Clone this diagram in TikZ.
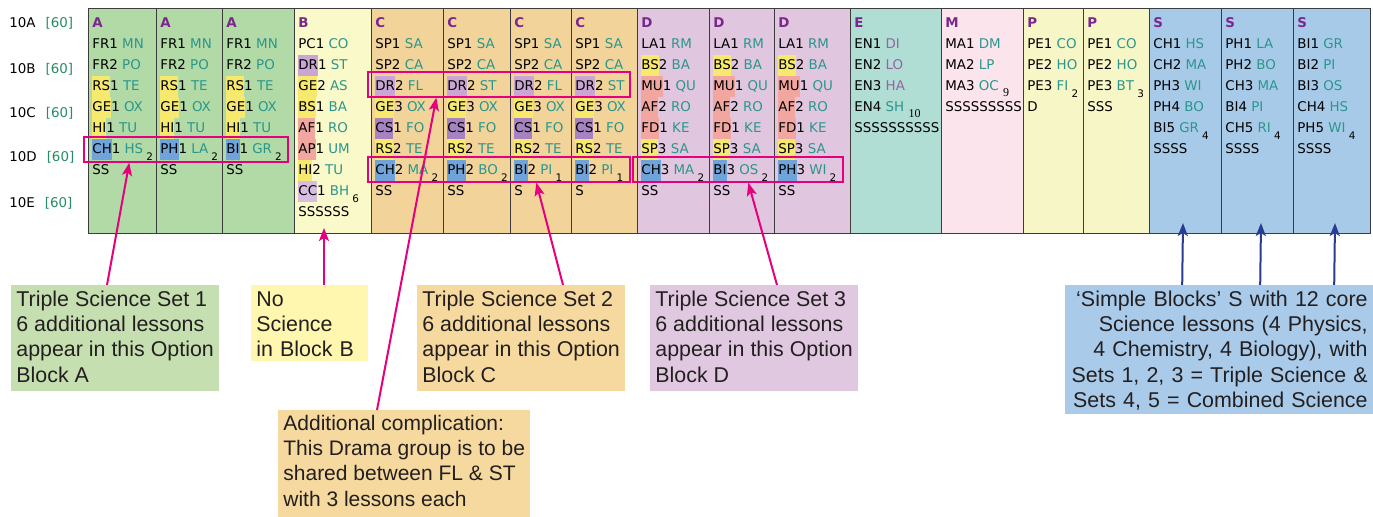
\documentclass[tikz,border=0pt]{standalone}
\usepackage{fontspec}
\setmainfont{DejaVu Sans}
\newfontfamily\callfam{Liberation Sans}
\newfontfamily\serifsub{Liberation Serif}
\usetikzlibrary{arrows.meta, positioning}

% block colours
\definecolor{colA}{RGB}{178,218,166}
\definecolor{colB}{RGB}{250,249,202}
\definecolor{colC}{RGB}{242,212,154}
\definecolor{colD}{RGB}{225,198,224}
\definecolor{colE}{RGB}{176,221,212}
\definecolor{colM}{RGB}{251,228,236}
\definecolor{colP}{RGB}{247,246,198}
\definecolor{colS}{RGB}{168,202,233}
% callout colours
\definecolor{calA}{RGB}{197,223,176}
\definecolor{calB}{RGB}{255,246,176}
\definecolor{calC}{RGB}{245,217,158}
\definecolor{calD}{RGB}{224,201,224}
\definecolor{calS}{RGB}{169,203,233}
% highlight colours
\definecolor{hly}{RGB}{247,233,110}
\definecolor{hlb}{RGB}{111,163,217}
\definecolor{hldr}{RGB}{201,166,211}
\definecolor{hlcs}{RGB}{166,131,192}
\definecolor{hlp}{RGB}{242,166,160}
\definecolor{hlcc}{RGB}{215,190,225}
% text and lines
\definecolor{codeteal}{RGB}{42,150,140}
\definecolor{codemauve}{RGB}{150,100,160}
\definecolor{lblteal}{RGB}{38,140,100}
\definecolor{hdrpurple}{RGB}{122,40,140}
\definecolor{calltext}{RGB}{35,31,32}
\definecolor{gridline}{RGB}{60,60,60}
\definecolor{pinkline}{RGB}{230,0,126}
\definecolor{navyline}{RGB}{40,60,145}

\newcommand\gridfont{\fontsize{6.7}{10.5}\selectfont}
\newcommand\callfont{\callfam\fontsize{10.7}{12.65}\selectfont}
\newcommand\gc[1]{\textcolor{codeteal}{#1}}
\newcommand\gm[1]{\textcolor{codemauve}{#1}}
\newcommand\hlt[2]{{\setlength\fboxsep{0pt}\colorbox{#1}{\rule[-2.9pt]{0pt}{10.4pt}#2}}}
\newcommand\hdr[1]{\rule{0pt}{7pt}\textcolor{hdrpurple}{\textbf{#1}}}
\newcommand\subn[1]{\kern1.6pt\raisebox{-3.2pt}{\fontsize{5.2}{6}\selectfont#1}}
\newcommand\subs[1]{\kern2.2pt\raisebox{-3pt}{\serifsub\fontsize{6}{6}\selectfont#1}}

\begin{document}
\begin{tikzpicture}[
  x=0.5pt, y=-0.5pt,
  gcol/.style={draw=gridline, line width=0.5pt, anchor=north west,
    inner sep=0pt, outer sep=0pt, minimum height=112.5pt},
  gtext/.style={anchor=north west, inner sep=0pt, align=left,
    font=\gridfont},
  rowlbl/.style={anchor=base west, inner sep=0pt, font=\gridfont},
  setbox/.style={draw=pinkline, line width=0.7pt, inner sep=0pt,
    minimum height=12.5pt},
  callout/.style={anchor=north west, inner xsep=2.5pt, inner ysep=2pt,
    align=left, font=\callfont, text=calltext},
  pinkarrow/.style={-{Stealth[length=6.5pt,width=5pt,inset=1.5pt]},
    line width=1pt, draw=pinkline},
  navyarrow/.style={-{Stealth[length=6.5pt,width=5pt,inset=1.5pt]},
    line width=1pt, draw=navyline}
]
\useasboundingbox (0,0) rectangle (1373,517);

% Row labels
\node[rowlbl] (r10A) at (9,27.5) {10A\hspace{5pt}\textcolor{lblteal}{[60]}};
\node[rowlbl] (r10B) at (9,73.1) {10B\hspace{5pt}\textcolor{lblteal}{[60]}};
\node[rowlbl] (r10C) at (9,117.5) {10C\hspace{5pt}\textcolor{lblteal}{[60]}};
\node[rowlbl] (r10D) at (9,161.5) {10D\hspace{5pt}\textcolor{lblteal}{[60]}};
\node[rowlbl] (r10E) at (9,207.5) {10E\hspace{5pt}\textcolor{lblteal}{[60]}};

% Block columns
\node[gcol, fill=colA, minimum width=34pt] (cA1) at (88,9) {};
\node[gcol, fill=colA, minimum width=33pt, right=0pt of cA1] (cA2) {};
\node[gcol, fill=colA, minimum width=36pt, right=0pt of cA2] (cA3) {};
\node[gcol, fill=colB, minimum width=38.5pt, right=0pt of cA3] (cB) {};
\node[gcol, fill=colC, minimum width=36pt, right=0pt of cB] (cC1) {};
\node[gcol, fill=colC, minimum width=33.5pt, right=0pt of cC1] (cC2) {};
\node[gcol, fill=colC, minimum width=30.5pt, right=0pt of cC2] (cC3) {};
\node[gcol, fill=colC, minimum width=33pt, right=0pt of cC3] (cC4) {};
\node[gcol, fill=colD, minimum width=36pt, right=0pt of cC4] (cD1) {};
\node[gcol, fill=colD, minimum width=32.5pt, right=0pt of cD1] (cD2) {};
\node[gcol, fill=colD, minimum width=38pt, right=0pt of cD2] (cD3) {};
\node[gcol, fill=colE, minimum width=45.5pt, right=0pt of cD3] (cE) {};
\node[gcol, fill=colM, minimum width=41pt, right=0pt of cE] (cM) {};
\node[gcol, fill=colP, minimum width=30pt, right=0pt of cM] (cP1) {};
\node[gcol, fill=colP, minimum width=33pt, right=0pt of cP1] (cP2) {};
\node[gcol, fill=colS, minimum width=36pt, right=0pt of cP2] (cS1) {};
\node[gcol, fill=colS, minimum width=36pt, right=0pt of cS1] (cS2) {};
\node[gcol, fill=colS, minimum width=38.5pt, right=0pt of cS2] (cS3) {};

% Column contents
\node[gtext] (tA1) at ([xshift=2pt,yshift=-2.25pt]cA1.north west)
  {\hdr{A}\\FR1 \gc{MN}\\FR2 \gc{PO}\\\hlt{hly}{RS}1 \gc{TE}\\\hlt{hly}{GE}1 \gc{OX}\\
   \hlt{hly}{HI}1 \gc{TU}\\\hlt{hlb}{CH}1 \gc{HS}\subn{2}\\SS};
\node[gtext] (tA2) at ([xshift=2pt,yshift=-2.25pt]cA2.north west)
  {\hdr{A}\\FR1 \gc{MN}\\FR2 \gc{PO}\\\hlt{hly}{RS}1 \gc{TE}\\\hlt{hly}{GE}1 \gc{OX}\\
   \hlt{hly}{HI}1 \gc{TU}\\\hlt{hlb}{PH}1 \gc{LA}\subn{2}\\SS};
\node[gtext] (tA3) at ([xshift=2pt,yshift=-2.25pt]cA3.north west)
  {\hdr{A}\\FR1 \gc{MN}\\FR2 \gc{PO}\\\hlt{hly}{RS}1 \gc{TE}\\\hlt{hly}{GE}1 \gc{OX}\\
   \hlt{hly}{HI}1 \gc{TU}\\\hlt{hlb}{BI}1 \gc{GR}\subn{2}\\SS};
\node[gtext] (tB) at ([xshift=2pt,yshift=-2.25pt]cB.north west)
  {\hdr{B}\\PC1 \gc{CO}\\\hlt{hldr}{DR}1 \gc{ST}\\\hlt{hly}{GE}2 \gc{AS}\\\hlt{hly}{BS}1 \gc{BA}\\
   \hlt{hlp}{AF}1 \gc{RO}\\\hlt{hlp}{AP}1 \gc{UM}\\\hlt{hly}{HI}2 \gc{TU}\\
   \hlt{hlcc}{CC}1 \gc{BH}\subn{6}\\SSSSSS};
\node[gtext] (tC1) at ([xshift=2pt,yshift=-2.25pt]cC1.north west)
  {\hdr{C}\\SP1 \gc{SA}\\SP2 \gc{CA}\\\hlt{hldr}{DR}2 \gc{FL}\\\hlt{hly}{GE}3 \gc{OX}\\
   \hlt{hlcs}{CS}1 \gc{FO}\\\hlt{hly}{RS}2 \gc{TE}\\\hlt{hlb}{CH}2 \gc{MA}\subn{2}\\SS};
\node[gtext] (tC2) at ([xshift=2pt,yshift=-2.25pt]cC2.north west)
  {\hdr{C}\\SP1 \gc{SA}\\SP2 \gc{CA}\\\hlt{hldr}{DR}2 \gc{ST}\\\hlt{hly}{GE}3 \gc{OX}\\
   \hlt{hlcs}{CS}1 \gc{FO}\\\hlt{hly}{RS}2 \gc{TE}\\\hlt{hlb}{PH}2 \gc{BO}\subn{2}\\SS};
\node[gtext] (tC3) at ([xshift=2pt,yshift=-2.25pt]cC3.north west)
  {\hdr{C}\\SP1 \gc{SA}\\SP2 \gc{CA}\\\hlt{hldr}{DR}2 \gc{FL}\\\hlt{hly}{GE}3 \gc{OX}\\
   \hlt{hlcs}{CS}1 \gc{FO}\\\hlt{hly}{RS}2 \gc{TE}\\\hlt{hlb}{BI}2 \gc{PI}\subn{1}\\S};
\node[gtext] (tC4) at ([xshift=2pt,yshift=-2.25pt]cC4.north west)
  {\hdr{C}\\SP1 \gc{SA}\\SP2 \gc{CA}\\\hlt{hldr}{DR}2 \gc{ST}\\\hlt{hly}{GE}3 \gc{OX}\\
   \hlt{hlcs}{CS}1 \gc{FO}\\\hlt{hly}{RS}2 \gc{TE}\\\hlt{hlb}{BI}2 \gc{PI}\subn{1}\\S};
\node[gtext] (tD1) at ([xshift=2pt,yshift=-2.25pt]cD1.north west)
  {\hdr{D}\\LA1 \gc{RM}\\\hlt{hly}{BS}2 \gc{BA}\\\hlt{hlp}{MU}1 \gc{QU}\\\hlt{hlp}{AF}2 \gc{RO}\\
   \hlt{hlp}{FD}1 \gc{KE}\\\hlt{hly}{SP}3 \gc{SA}\\\hlt{hlb}{CH}3 \gc{MA}\subn{2}\\SS};
\node[gtext] (tD2) at ([xshift=2pt,yshift=-2.25pt]cD2.north west)
  {\hdr{D}\\LA1 \gc{RM}\\\hlt{hly}{BS}2 \gc{BA}\\\hlt{hlp}{MU}1 \gc{QU}\\\hlt{hlp}{AF}2 \gc{RO}\\
   \hlt{hlp}{FD}1 \gc{KE}\\\hlt{hly}{SP}3 \gc{SA}\\\hlt{hlb}{BI}3 \gc{OS}\subn{2}\\SS};
\node[gtext] (tD3) at ([xshift=2pt,yshift=-2.25pt]cD3.north west)
  {\hdr{D}\\LA1 \gc{RM}\\\hlt{hly}{BS}2 \gc{BA}\\\hlt{hlp}{MU}1 \gc{QU}\\\hlt{hlp}{AF}2 \gc{RO}\\
   \hlt{hlp}{FD}1 \gc{KE}\\\hlt{hly}{SP}3 \gc{SA}\\\hlt{hlb}{PH}3 \gc{WI}\subn{2}\\SS};
\node[gtext] (tE) at ([xshift=2pt,yshift=-2.25pt]cE.north west)
  {\hdr{E}\\EN1 \gm{DI}\\EN2 \gm{LO}\\EN3 \gm{HA}\\EN4 \gc{SH}\subs{10}\\SSSSSSSSSS};
\node[gtext] (tM) at ([xshift=2pt,yshift=-2.25pt]cM.north west)
  {\hdr{M}\\MA1 \gc{DM}\\MA2 \gc{LP}\\MA3 \gc{OC}\subs{9}\\SSSSSSSSS};
\node[gtext] (tP1) at ([xshift=2pt,yshift=-2.25pt]cP1.north west)
  {\hdr{P}\\PE1 \gc{CO}\\PE2 \gc{HO}\\PE3 \gc{FI}\subn{2}\\D};
\node[gtext] (tP2) at ([xshift=2pt,yshift=-2.25pt]cP2.north west)
  {\hdr{P}\\PE1 \gc{CO}\\PE2 \gc{HO}\\PE3 \gc{BT}\subn{3}\\SSS};
\node[gtext] (tS1) at ([xshift=2pt,yshift=-2.25pt]cS1.north west)
  {\hdr{S}\\CH1 \gc{HS}\\CH2 \gc{MA}\\PH3 \gc{WI}\\PH4 \gc{BO}\\BI5 \gc{GR}\subn{4}\\SSSS};
\node[gtext] (tS2) at ([xshift=2pt,yshift=-2.25pt]cS2.north west)
  {\hdr{S}\\PH1 \gc{LA}\\PH2 \gc{BO}\\CH3 \gc{MA}\\BI4 \gc{PI}\\CH5 \gc{RI}\subn{4}\\SSSS};
\node[gtext] (tS3) at ([xshift=2pt,yshift=-2.25pt]cS3.north west)
  {\hdr{S}\\BI1 \gc{GR}\\BI2 \gc{PI}\\BI3 \gc{OS}\\CH4 \gc{HS}\\PH5 \gc{WI}\subn{4}\\SSSS};

% Science set frames
\node[setbox, minimum width=102pt] (boxA) at (186,149.5) {};
\node[setbox, minimum width=131pt] (boxDR) at (499,84.5) {};
\node[setbox, minimum width=131pt] (boxC) at (499,169.5) {};
\node[setbox, minimum width=105pt] (boxD) at (738,169.5) {};

% Callouts
\node[callout, fill=calA] (calA) at (11,285)
  {\rule{0pt}{8.5pt}Triple Science Set 1\\6 additional lessons\\appear in this Option\\
   Block A\rule[-2.55pt]{0pt}{0pt}};
\node[callout, fill=calB, text width=53.5pt] (calB) at (251,285)
  {\rule{0pt}{8.5pt}No\\Science\\in Block B};
\node[callout, fill=calC] (calC) at (417,285)
  {\rule{0pt}{8.5pt}Triple Science Set 2\\6 additional lessons\\appear in this Option\\
   Block C\rule[-2.55pt]{0pt}{0pt}};
\node[callout, fill=calD] (calD) at (650,285)
  {\rule{0pt}{8.5pt}Triple Science Set 3\\6 additional lessons\\appear in this Option\\
   Block D\rule[-2.55pt]{0pt}{0pt}};
\node[callout, fill=calC, font=\callfam\fontsize{10.5}{12.65}\selectfont] (calDr) at (278,410)
  {\rule{0pt}{8pt}Additional complication:\\This Drama group is to be\\
   shared between FL \& ST\\with 3 lessons each\rule[-3.25pt]{0pt}{0pt}};
\node[callout, fill=calS, anchor=north east, text width=149pt, align=right] (calS) at (1373,285)
  {\rule{0pt}{8.5pt}‘Simple Blocks’ S with 12 core\\Science lessons (4 Physics,\\
   4 Chemistry, 4 Biology), with\\Sets 1, 2, 3 = Triple Science \&\\
   Sets 4, 5 = Combined Science\rule[-0.9pt]{0pt}{0pt}};

% Arrows
\draw[pinkarrow] ([xshift=48pt]calA.north west) -- ([xshift=23pt]boxA.south west);
\draw[pinkarrow] ([xshift=36.5pt]calB.north west) -- ([xshift=15pt,yshift=3pt]cB.south west);
\draw[pinkarrow] ([xshift=49.5pt]calDr.north west) -- ([xshift=34.5pt]boxDR.south west);
\draw[pinkarrow] ([xshift=73pt]calC.north west) -- ([xshift=84.5pt]boxC.south west);
\draw[pinkarrow] ([xshift=63.5pt]calD.north west) -- ([xshift=58pt]boxD.south west);
\draw[navyarrow] ([xshift=59pt]calS.north west) -- ([xshift=17pt,yshift=5.5pt]cS1.south west);
\draw[navyarrow] ([xshift=98pt]calS.north west) -- ([xshift=20pt,yshift=5.5pt]cS2.south west);
\draw[navyarrow] ([xshift=135pt]calS.north west) -- ([xshift=21pt,yshift=5.5pt]cS3.south west);
\end{tikzpicture}
\end{document}
